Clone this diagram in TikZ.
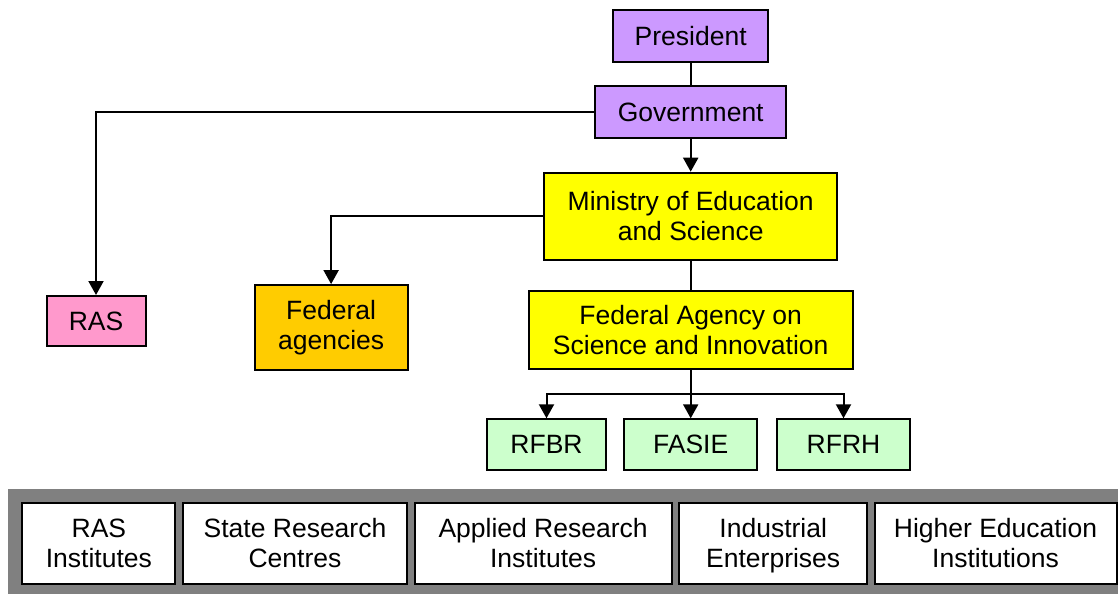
\documentclass[tikz,border=0pt]{standalone}
\usepackage{fontspec}
\setmainfont{Liberation Sans}
\usetikzlibrary{arrows.meta}
\definecolor{violetbox}{HTML}{CC99FF}
\definecolor{yellowbox}{HTML}{FFFF00}
\definecolor{pinkbox}{HTML}{FF99CC}
\definecolor{orangebox}{HTML}{FFCC00}
\definecolor{greenbox}{HTML}{CCFFCC}
\definecolor{bandgray}{HTML}{808080}
\begin{document}
\begin{tikzpicture}[x=1pt,y=-1pt,
  box/.style={draw=black,line width=2pt,inner sep=0pt,align=center,
    font=\fontsize{26.5}{30}\selectfont},
  conn/.style={draw=black,line width=2pt},
  arr/.style={conn,-{Triangle[width=15pt,length=14pt]}}]
\useasboundingbox (0,0) rectangle (1118,594);
\fill[bandgray] (8,489) rectangle (1118,594);
% top chain
\node[box,fill=violetbox,minimum width=155pt,minimum height=52pt] (pres) at (690.7,36) {President};
\node[box,fill=violetbox,minimum width=191pt,minimum height=52pt] (gov) at (690.7,112) {Government};
\node[box,fill=yellowbox,minimum width=293pt,minimum height=87pt] (min) at (690.7,216.2) {Ministry of Education\\and Science};
\node[box,fill=yellowbox,minimum width=324pt,minimum height=78pt] (fa) at (690.7,330) {Federal Agency on\\Science and Innovation};
\node[box,fill=pinkbox,minimum width=99pt,minimum height=50pt] (ras) at (96,321) {RAS};
\node[box,fill=orangebox,minimum width=153pt,minimum height=85pt] (fedag) at (331.1,327.6) {Federal\\agencies};
\node[box,fill=greenbox,minimum width=119pt,minimum height=51pt] (rfbr) at (546.5,444.8) {RFBR};
\node[box,fill=greenbox,minimum width=133pt,minimum height=51pt] (fasie) at (690.7,444.8) {FASIE};
\node[box,fill=greenbox,minimum width=133pt,minimum height=51pt] (rfrh) at (843.5,444.8) {RFRH};
% bottom band boxes
\node[box,fill=white,minimum width=153pt,minimum height=81pt] (b1) at (98.9,543.3) {RAS\\Institutes};
\node[box,fill=white,minimum width=224pt,minimum height=81pt] (b2) at (295,543.3) {State Research\\Centres};
\node[box,fill=white,minimum width=257pt,minimum height=81pt] (b3) at (543.1,543.3) {Applied Research\\Institutes};
\node[box,fill=white,minimum width=188pt,minimum height=81pt,text depth=0pt] (b4) at (773.2,543.3) {Industrial\\Enterprises};
\node[box,fill=white,minimum width=242pt,minimum height=81pt] (b5) at (995.5,543.3) {Higher Education\\Institutions};
% connectors
\draw[conn] (pres.south) -- (gov.north);
\draw[arr] (gov.south) -- (min.north);
\draw[conn] (min.south) -- (fa.north);
\draw[arr] (gov.west) -| (ras.north);
\draw[arr] (min.west) -| (fedag.north);
\coordinate (br) at (690.7,394.3);
\draw[arr] (fa.south) -- (fasie.north);
\draw[arr] (br) -| (rfbr.north);
\draw[arr] (br) -| (rfrh.north);
\end{tikzpicture}
\end{document}
